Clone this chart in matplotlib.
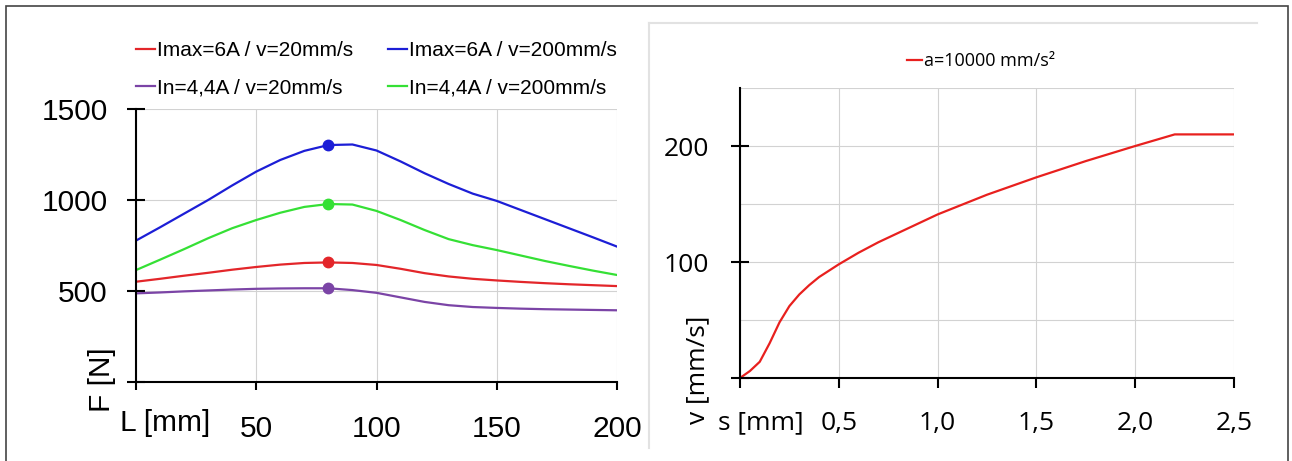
import matplotlib
matplotlib.use("Agg")
import matplotlib.pyplot as plt
from matplotlib.patches import Rectangle
from matplotlib.lines import Line2D

W, H = 1292, 461

# left chart: force F over length L
L = [0, 10, 20, 30, 40, 50, 60, 70, 80, 90, 100, 110, 120, 130, 140, 150, 160, 170, 180, 190, 200]
f_imax_20 = [551, 567, 584, 600, 617, 632, 645, 654, 657, 654, 643, 622, 598, 580, 567, 558, 550, 543, 537, 532, 527]
f_imax_200 = [777, 850, 925, 1000, 1080, 1156, 1220, 1270, 1302, 1305, 1272, 1212, 1147, 1088, 1035, 995, 945, 895, 845, 795, 744]
f_in_20 = [487, 492, 498, 503, 508, 512, 514, 515, 515, 505, 490, 465, 440, 422, 412, 407, 403, 400, 398, 396, 394]
f_in_200 = [615, 672, 730, 790, 845, 890, 930, 962, 978, 975, 940, 890, 835, 785, 752, 725, 695, 665, 638, 612, 588]
L_mark = 80
labels_left = ["Imax=6A / v=20mm/s", "Imax=6A / v=200mm/s",
               "In=4,4A / v=20mm/s", "In=4,4A / v=200mm/s"]

# right chart: speed v over distance s
s = [0, 0.05, 0.1, 0.15, 0.2, 0.25, 0.3, 0.35, 0.4, 0.5, 0.6, 0.7, 0.8, 0.9, 1.0,
     1.25, 1.5, 1.75, 2.0, 2.2, 2.25, 2.5]
v = [0, 6, 14, 30, 48, 62, 72, 80, 87, 98, 108, 117, 125, 133, 141,
     158, 173, 187, 200, 210, 210, 210]

c_red = "#e3262a"
c_blue = "#1c1ed6"
c_purple = "#7b44a6"
c_green = "#35e035"
grid_c = "#d2d2d2"


def fx(px):
    return px / W


def fy(py):
    return 1 - py / H


fig = plt.figure(figsize=(W / 100, H / 100), dpi=100)

# ---------- left ----------
axl = fig.add_axes([fx(136), fy(382), fx(617) - fx(136), fy(109) - fy(382)])
series = [(f_imax_20, c_red), (f_imax_200, c_blue), (f_in_20, c_purple), (f_in_200, c_green)]
handles = []
for (vals, col), lab in zip(series, labels_left):
    h, = axl.plot(L, vals, color=col, lw=1.6, label=lab)
    handles.append(h)
    axl.plot([L_mark], [vals[L.index(L_mark)]], "o", color=col, ms=7.5)

axl.set_xlim(0, 200)
axl.set_ylim(0, 1500)
axl.set_xticks([0, 50, 100, 150, 200])
axl.set_xticklabels(["", "50", "100", "150", "200"])
axl.set_yticks([0, 500, 1000, 1500])
axl.set_yticklabels(["", "500", "1000", "1500"])
axl.grid(True, color=grid_c, lw=0.8)
axl.set_axisbelow(True)
for sp in ["top", "right"]:
    axl.spines[sp].set_visible(False)
for sp in ["left", "bottom"]:
    axl.spines[sp].set_linewidth(1.5)
axl.tick_params(axis="y", direction="inout", length=13, width=1.5, pad=14,
                labelsize=21.5, labelfontfamily="Liberation Sans")
axl.tick_params(axis="x", direction="out", length=6, width=1.5, pad=18,
                labelsize=21.5, labelfontfamily="Liberation Sans")

# legend order: row 1 red, blue; row 2 purple, green
order = [handles[0], handles[2], handles[1], handles[3]]
leg = axl.legend(order, [h.get_label() for h in order], ncol=2,
                 loc="upper left", bbox_to_anchor=(fx(126), fy(31)),
                 bbox_transform=fig.transFigure, frameon=False, borderpad=0,
                 handlelength=0.9, handletextpad=0.1, columnspacing=1.65,
                 labelspacing=0.85, prop={"family": "Liberation Sans", "size": 15})

fig.text(fx(165), fy(423), "L [mm]", ha="center", va="center",
         fontsize=21.5, family="Liberation Sans")
fig.text(fx(102), fy(380), "F [N]", ha="center", va="center", rotation=90,
         fontsize=21.5, family="Liberation Sans")

# ---------- right ----------
axr = fig.add_axes([fx(740), fy(378), fx(1234) - fx(740), fy(88) - fy(378)])
axr.plot(s, v, color="#e8201e", lw=1.6, label="a=10000 mm/s²")
axr.set_xlim(0, 2.5)
axr.set_ylim(0, 250)
axr.set_xticks([0, 0.5, 1.0, 1.5, 2.0, 2.5])
axr.set_xticklabels(["", "0,5", "1,0", "1,5", "2,0", "2,5"])
axr.set_yticks([0, 100, 200])
axr.set_yticklabels(["", "100", "200"])
axr.set_yticks([50, 150, 250], minor=True)
axr.grid(True, which="both", axis="y", color=grid_c, lw=0.8)
axr.grid(True, which="major", axis="x", color=grid_c, lw=0.8)
axr.set_axisbelow(True)
for sp in ["top", "right"]:
    axr.spines[sp].set_visible(False)
for sp in ["left", "bottom"]:
    axr.spines[sp].set_linewidth(1.5)
axr.tick_params(axis="y", which="major", direction="inout", length=13, width=1.5, pad=16,
                labelsize=19, labelfontfamily="Open Sans")
axr.tick_params(axis="y", which="minor", length=0)
axr.tick_params(axis="x", direction="out", length=7, width=1.5, pad=17,
                labelsize=19, labelfontfamily="Open Sans")
axr.legend(loc="center", bbox_to_anchor=(fx(981), fy(61)), bbox_transform=fig.transFigure,
           frameon=False, borderpad=0, handlelength=0.8, handletextpad=0.1,
           prop={"family": "Open Sans", "size": 13})

fig.text(fx(761), fy(423), "s [mm]", ha="center", va="center",
         fontsize=19, family="Open Sans")
fig.text(fx(698), fy(370), "v [mm/s]", ha="center", va="center", rotation=90,
         fontsize=19, family="Open Sans")

# frames
fig.add_artist(Rectangle((fx(6), -0.1), fx(1288) - fx(6), fy(6) + 0.1,
                         transform=fig.transFigure, fill=False, ec="#444444", lw=1.2))
fig.add_artist(Line2D([fx(649), fx(1257)], [fy(23), fy(23)], transform=fig.transFigure,
                      color="#e2e2e2", lw=1.5))
fig.add_artist(Line2D([fx(649), fx(649)], [fy(23), fy(448)], transform=fig.transFigure,
                      color="#e2e2e2", lw=1.5))

fig.savefig("out.png", dpi=100)
